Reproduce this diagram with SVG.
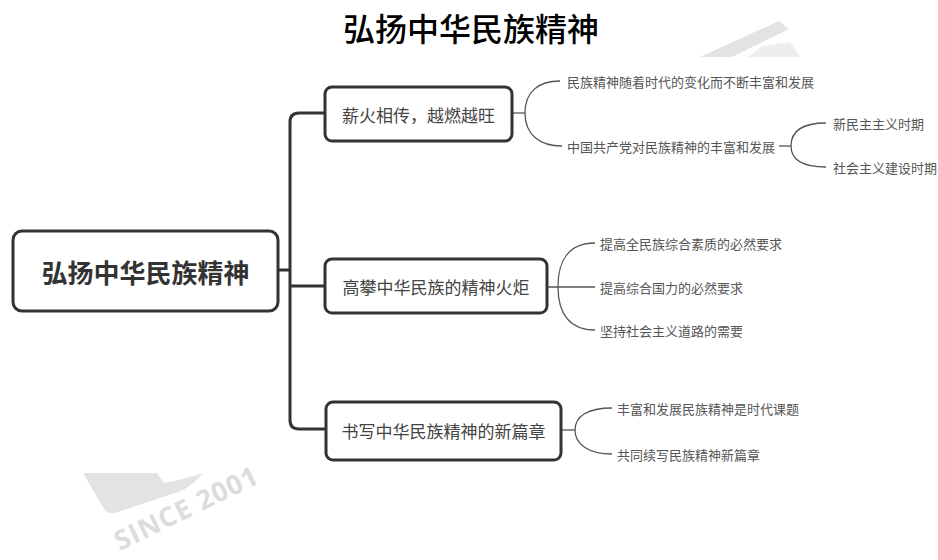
<svg xmlns="http://www.w3.org/2000/svg" width="938" height="560" viewBox="0 0 938 560">
<style>
.cjk{font-family:"Noto Sans CJK SC","Noto Sans",sans-serif;}
.box{fill:#fff;stroke:#333;stroke-width:3;}
.btxt{font-size:17px;fill:#444;text-anchor:middle;dominant-baseline:central;}
.ctxt{font-size:13px;fill:#555;dominant-baseline:central;}
.trunk{fill:none;stroke:#333;stroke-width:3;}
.thin{fill:none;stroke:#555;stroke-width:1.3;}
.wm{fill:#e3e3e3;}
</style>
<rect width="938" height="560" fill="#fff"/>
<g id="watermark">
<polygon class="wm" points="700,57 779,21 789,29 732,57"/>
<polygon class="wm" points="748,57 762,46 790,42 800,57" fill-opacity="0.6"/>
<path class="wm" d="M83 473 H157 L164 483 Q185 479 203 473 Q192 487 178 492 L118 512 Q107 516 103 507 Z"/>
<text x="120" y="551" transform="rotate(-26 120 551)" font-family="'Open Sans','DejaVu Sans',sans-serif" font-weight="700" font-size="27" letter-spacing="1" fill="#dcdcdc">SINCE 2001</text>
</g>
<text id="title" class="cjk" x="471" y="27" font-size="32" font-weight="500" fill="#000" text-anchor="middle" dominant-baseline="central">弘扬中华民族精神</text>
<g id="connectors">
<path class="trunk" d="M278 270 H290"/>
<path class="trunk" d="M325 113 H299 Q290 113 290 122 V420 Q290 429 299 429 H326"/>
<path class="trunk" d="M290 286 H325"/>
<path class="thin" d="M512 113 H525"/>
<path class="thin" d="M525 113 C525 92 538 81 560 81"/>
<path class="thin" d="M525 113 C525 135 540 146 562 146"/>
<path class="thin" d="M779 146 H791"/>
<path class="thin" d="M791 146 C791 131 803 123 826 123"/>
<path class="thin" d="M791 146 C791 160 803 167 826 167"/>
<path class="thin" d="M547 287 H595"/>
<path class="thin" d="M558 287 C558 259 570 243 595 243"/>
<path class="thin" d="M558 287 C558 314 570 330 595 330"/>
<path class="thin" d="M561 430 H575"/>
<path class="thin" d="M575 430 C575 416 588 408 612 408"/>
<path class="thin" d="M575 430 C575 444 588 454 612 454"/>
</g>
<g id="root">
<rect class="box" x="13" y="231" width="265" height="80" rx="9"/>
<text class="cjk" x="145.5" y="271" font-size="26" font-weight="700" fill="#333" text-anchor="middle" dominant-baseline="central">弘扬中华民族精神</text>
</g>
<g id="n1">
<rect class="box" x="325" y="87" width="187" height="54" rx="7"/>
<text class="cjk btxt" x="418.5" y="114">薪火相传，越燃越旺</text>
</g>
<g id="n2">
<rect class="box" x="325" y="259" width="222" height="54" rx="7"/>
<text class="cjk btxt" x="436" y="286">高攀中华民族的精神火炬</text>
</g>
<g id="n3">
<rect class="box" x="326" y="402" width="235" height="58" rx="7"/>
<text class="cjk btxt" x="443.5" y="430">书写中华民族精神的新篇章</text>
</g>
<g id="n1a"><text class="cjk ctxt" x="567" y="81">民族精神随着时代的变化而不断丰富和发展</text></g>
<g id="n1b"><text class="cjk ctxt" x="567" y="146">中国共产党对民族精神的丰富和发展</text></g>
<g id="n1b1"><text class="cjk ctxt" x="833" y="123">新民主主义时期</text></g>
<g id="n1b2"><text class="cjk ctxt" x="833" y="167">社会主义建设时期</text></g>
<g id="n2a"><text class="cjk ctxt" x="600" y="243">提高全民族综合素质的必然要求</text></g>
<g id="n2b"><text class="cjk ctxt" x="600" y="287">提高综合国力的必然要求</text></g>
<g id="n2c"><text class="cjk ctxt" x="600" y="330">坚持社会主义道路的需要</text></g>
<g id="n3a"><text class="cjk ctxt" x="617" y="408">丰富和发展民族精神是时代课题</text></g>
<g id="n3b"><text class="cjk ctxt" x="617" y="454">共同续写民族精神新篇章</text></g>
</svg>
